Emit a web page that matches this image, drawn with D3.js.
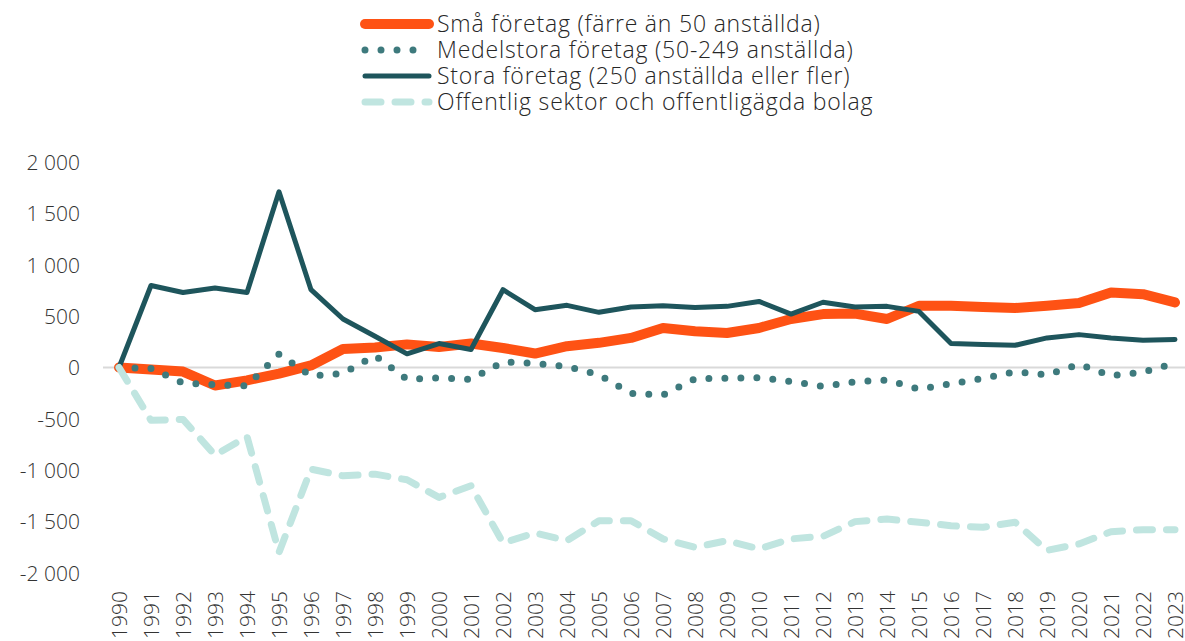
<!DOCTYPE html>
<html lang="sv">
<head>
<meta charset="UTF-8">
<title>Företag per storlek</title>
<script src="https://d3js.org/d3.v7.min.js"></script>
<style>
  body { margin: 0; background: #fff; }
  svg text { font-family: "Open Sans", "Lato", sans-serif; font-weight: 300; }
</style>
</head>
<body>
<div id="chart"></div>
<script>
const years = d3.range(1990, 2024).map(String);

const sma = [0, -20, -40, -175, -125, -60, 20, 180, 195, 225, 200, 233, 190, 136, 207, 240, 288, 385, 352, 336, 385, 472, 520,
  525, 472, 601, 601, 589, 579, 601, 627, 730, 714, 633];
const medel = [0, -10, -150, -168, -178, 130, -82, -58, 115, -115, -100, -115, 55, 40, 10, -70, -252, -268, -110, -103, -100, -136, -185,
  -139, -123, -210, -158, -107, -42, -71, 32, -81, -45, 42];
const stora = [0, 798, 730, 773, 730, 1710, 757, 472, 304, 133, 233, 175, 757, 563, 605, 537, 589, 601, 585, 595, 643, 520, 635,
  589, 595, 546, 233, 223, 216, 288, 320, 288, 265, 272];
const offentlig = [0, -514, -505, -853, -672, -1800, -989, -1054, -1038, -1093, -1264, -1151, -1707, -1610, -1685, -1491, -1491, -1668,
  -1749, -1685, -1765, -1668, -1643, -1500, -1475, -1506, -1540, -1555, -1506, -1780, -1717, -1598, -1578, -1580];

const seriesNames = [
  "Små företag (färre än 50 anställda)",
  "Medelstora företag (50-249 anställda)",
  "Stora företag (250 anställda eller fler)",
  "Offentlig sektor och offentligägda bolag"
];
const yTicks = [-2000, -1500, -1000, -500, 0, 500, 1000, 1500, 2000];

const width = 1185, height = 641;

const styles = [
  { color: "#fe5214", width: 10, dash: null, cap: "round" },
  { color: "#3e7a7d", width: 7, dash: "0 16", cap: "round" },
  { color: "#1e555c", width: 5, dash: null, cap: "round" },
  { color: "#c0e5e0", width: 7, dash: "16 14", cap: "round" }
];
const allSeries = [sma, medel, stora, offentlig];

const svg = d3.select("#chart").append("svg")
  .attr("width", width)
  .attr("height", height);

const x = d3.scalePoint()
  .domain(years)
  .range([103, 1191])
  .padding(0.5);

const y = d3.scaleLinear()
  .domain([-2000, 2000])
  .range([573, 162]);

const fmt = d3.formatLocale({ decimal: ",", thousands: " ", grouping: [3], currency: ["", " kr"], minus: "-" }).format(",d");

// y axis labels
const yAxis = svg.append("g")
  .attr("transform", "translate(80,0)")
  .call(d3.axisLeft(y).tickValues(yTicks).tickFormat(fmt).tickSize(0).tickPadding(0));
yAxis.select(".domain").remove();
yAxis.selectAll("text")
  .style("font-size", "21px")
  .attr("fill", "#333")
  .attr("dy", "0.35em");

// zero line
svg.append("line")
  .attr("x1", 103).attr("x2", 1191)
  .attr("y1", y(0)).attr("y2", y(0))
  .attr("stroke", "#d9d9d9")
  .attr("stroke-width", 2);

// x axis labels
const xAxis = svg.append("g")
  .attr("transform", "translate(0,591)")
  .call(d3.axisBottom(x).tickSize(0).tickPadding(0));
xAxis.select(".domain").remove();
xAxis.selectAll("text")
  .style("font-size", "21px")
  .attr("fill", "#333")
  .attr("text-anchor", "end")
  .attr("transform", "rotate(-90)")
  .attr("x", 0)
  .attr("y", 0)
  .attr("dy", "0.35em");

// lines
const line = d3.line()
  .x((d, i) => x(years[i]))
  .y(d => y(d));

allSeries.forEach(function (s, k) {
  const st = styles[k];
  svg.append("path")
    .datum(s)
    .attr("d", line)
    .attr("fill", "none")
    .attr("stroke", st.color)
    .attr("stroke-width", st.width)
    .attr("stroke-linecap", st.cap)
    .attr("stroke-linejoin", "round")
    .attr("stroke-dasharray", st.dash);
});

// legend
const legend = svg.append("g");
seriesNames.forEach(function (name, k) {
  const st = styles[k];
  const ly = 24 + k * 26;
  legend.append("line")
    .attr("x1", 365).attr("x2", 429)
    .attr("y1", ly).attr("y2", ly)
    .attr("stroke", st.color)
    .attr("stroke-width", st.width)
    .attr("stroke-linecap", st.cap)
    .attr("stroke-dasharray", st.dash);
  legend.append("text")
    .attr("x", 437)
    .attr("y", ly)
    .attr("dy", "0.35em")
    .style("font-size", "23px")
    .style("letter-spacing", "0.8px")
    .attr("fill", "#262626")
    .text(name);
});
</script>
</body>
</html>
